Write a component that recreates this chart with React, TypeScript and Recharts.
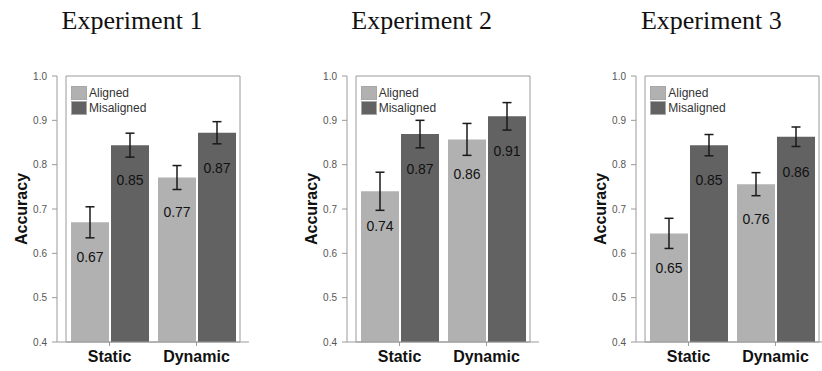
import {
  BarChart,
  Bar,
  XAxis,
  YAxis,
  ErrorBar,
  LabelList,
  Legend,
  ReferenceArea,
} from "recharts";

const categories = ["Static", "Dynamic"];
const yTicks = [0.4, 0.5, 0.6, 0.7, 0.8, 0.9, 1.0];
const titles = ["Experiment 1", "Experiment 2", "Experiment 3"];

// Experiment 1
const exp1Aligned = [0.67, 0.771];
const exp1Misaligned = [0.844, 0.872];
const exp1AlignedErr = [0.035, 0.027];
const exp1MisalignedErr = [0.027, 0.025];
const exp1AlignedLabels = ["0.67", "0.77"];
const exp1MisalignedLabels = ["0.85", "0.87"];

// Experiment 2
const exp2Aligned = [0.74, 0.857];
const exp2Misaligned = [0.869, 0.909];
const exp2AlignedErr = [0.043, 0.036];
const exp2MisalignedErr = [0.031, 0.031];
const exp2AlignedLabels = ["0.74", "0.86"];
const exp2MisalignedLabels = ["0.87", "0.91"];

// Experiment 3
const exp3Aligned = [0.645, 0.756];
const exp3Misaligned = [0.844, 0.863];
const exp3AlignedErr = [0.034, 0.026];
const exp3MisalignedErr = [0.024, 0.022];
const exp3AlignedLabels = ["0.65", "0.76"];
const exp3MisalignedLabels = ["0.85", "0.86"];

const buildRows = (
  aligned: number[],
  misaligned: number[],
  alignedErr: number[],
  misalignedErr: number[],
  alignedLabels: string[],
  misalignedLabels: string[]
) =>
  categories.map((name, i) => ({
    name,
    Aligned: aligned[i],
    Misaligned: misaligned[i],
    alignedErr: alignedErr[i],
    misalignedErr: misalignedErr[i],
    alignedLabel: alignedLabels[i],
    misalignedLabel: misalignedLabels[i],
  }));

const panels = [
  buildRows(exp1Aligned, exp1Misaligned, exp1AlignedErr, exp1MisalignedErr, exp1AlignedLabels, exp1MisalignedLabels),
  buildRows(exp2Aligned, exp2Misaligned, exp2AlignedErr, exp2MisalignedErr, exp2AlignedLabels, exp2MisalignedLabels),
  buildRows(exp3Aligned, exp3Misaligned, exp3AlignedErr, exp3MisalignedErr, exp3AlignedLabels, exp3MisalignedLabels),
];

const panelLeft = [0, 289.7, 579.3];

const ALIGNED = "#b1b1b1";
const MISALIGNED = "#626262";
const AXIS = "#9a9a9a";
const FONT = '"Liberation Sans", Arial, sans-serif';

const LegendBox = ({ payload }: any) => (
  <div style={{ fontFamily: FONT, fontSize: 12, color: "#333", lineHeight: "14px" }}>
    {(payload || []).map((p: any) => (
      <div key={p.value} style={{ display: "flex", alignItems: "center", height: 14.5 }}>
        <span
          style={{
            display: "inline-block",
            width: 16,
            height: 14,
            background: p.color,
            border: "1px solid #a8a8a8",
            boxSizing: "border-box",
            marginRight: 2,
          }}
        />
        <span>{p.value}</span>
      </div>
    ))}
  </div>
);

const Panel = ({ data }: { data: any[] }) => (
  <BarChart
    width={290}
    height={371}
    data={data}
    margin={{ top: 76, right: 41, bottom: 0, left: 0 }}
    barCategoryGap={5}
    barGap={2}
  >
    <ReferenceArea y1={0.4} y2={1.0} fill="none" stroke={AXIS} strokeWidth={1} ifOverflow="visible" />
    <XAxis
      dataKey="name"
      height={29}
      padding={{ left: 9, right: 9 }}
      axisLine={{ stroke: AXIS }}
      tickLine={{ stroke: AXIS }}
      tickSize={4}
      tickMargin={5}
      tick={{ fontSize: 16, fontWeight: 700, fill: "#111", fontFamily: FONT }}
    />
    <YAxis
      width={57}
      domain={[0.4, 1.0]}
      ticks={yTicks}
      allowDataOverflow
      tickFormatter={(v: number) => v.toFixed(1)}
      axisLine={{ stroke: AXIS }}
      tickLine={{ stroke: AXIS }}
      tickSize={5}
      tickMargin={5}
      tick={{ fontSize: 10, fill: "#555", fontFamily: FONT }}
      label={{
        value: "Accuracy",
        angle: -90,
        position: "center",
        dx: -7,
        style: { fontSize: 16, fontWeight: 700, fill: "#111", fontFamily: FONT },
      }}
    />
    <Legend
      layout="vertical"
      align="center"
      verticalAlign="middle"
      wrapperStyle={{ left: 71, top: 86, width: 120 }}
      content={LegendBox}
    />
    <Bar dataKey="Aligned" fill={ALIGNED} isAnimationActive={false}>
      <ErrorBar dataKey="alignedErr" width={4.5} stroke="#1a1a1a" strokeWidth={1.5} direction="y" />
      <LabelList
        dataKey="alignedLabel"
        position="insideTop"
        offset={30}
        style={{ fontSize: 14, fill: "#111", fontFamily: FONT }}
      />
    </Bar>
    <Bar dataKey="Misaligned" fill={MISALIGNED} isAnimationActive={false}>
      <ErrorBar dataKey="misalignedErr" width={4.5} stroke="#1a1a1a" strokeWidth={1.5} direction="y" />
      <LabelList
        dataKey="misalignedLabel"
        position="insideTop"
        offset={30}
        style={{ fontSize: 14, fill: "#111", fontFamily: FONT }}
      />
    </Bar>
  </BarChart>
);

export default function App() {
  return (
    <div
      style={{
        position: "absolute",
        left: 0,
        top: 0,
        width: 822,
        height: 371,
        overflow: "hidden",
        background: "#fff",
        fontFamily: FONT,
      }}
    >
      {panels.map((rows, i) => (
        <div key={i}>
          <div
            style={{
              position: "absolute",
              left: panelLeft[i] + 132 - 100,
              top: 8,
              width: 200,
              textAlign: "center",
              fontFamily: '"Liberation Serif", "Times New Roman", serif',
              fontSize: 26,
              lineHeight: "26px",
              color: "#111",
              whiteSpace: "nowrap",
            }}
          >
            {titles[i]}
          </div>
          <div style={{ position: "absolute", left: panelLeft[i], top: 0 }}>
            <Panel data={rows} />
          </div>
        </div>
      ))}
    </div>
  );
}
